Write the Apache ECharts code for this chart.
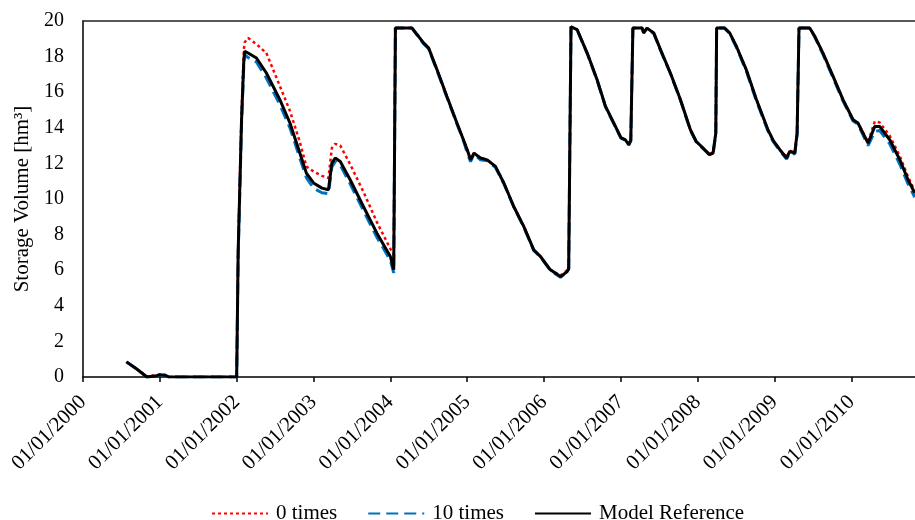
<!DOCTYPE html>
<html>
<head>
<meta charset="utf-8">
<script src="https://cdn.jsdelivr.net/npm/echarts@6/dist/echarts.min.js"></script>
<style>
    html, body { margin: 0; padding: 0; background: #fff; }
    #chart { width: 915px; height: 520px; }
</style>
</head>
<body>
<div id="chart"></div>
<script>
const dates = [
    '2000-07-26', '2000-09-13', '2000-10-31', '2000-12-08', '2001-01-01', '2001-01-25', '2001-02-13',
    '2002-01-01', '2002-01-08', '2002-01-24', '2002-02-04', '2002-02-08', '2002-02-24', '2002-04-05',
    '2002-05-22', '2002-07-25', '2002-09-11', '2002-10-28', '2002-11-28', '2003-01-01', '2003-02-10',
    '2003-03-13', '2003-03-29', '2003-04-14', '2003-05-08', '2003-06-24', '2003-08-26', '2003-10-29',
    '2004-01-01', '2004-01-17', '2004-01-25', '2004-04-13', '2004-05-14', '2004-06-07', '2004-07-01',
    '2004-08-10', '2004-09-26', '2004-11-13', '2004-12-14', '2005-01-01', '2005-01-17', '2005-02-02',
    '2005-03-05', '2005-04-06', '2005-05-15', '2005-06-24', '2005-08-10', '2005-09-27', '2005-11-13',
    '2005-12-15', '2006-01-31', '2006-03-20', '2006-04-21', '2006-04-28', '2006-05-09', '2006-06-07',
    '2006-07-25', '2006-09-10', '2006-10-20', '2006-11-28', '2007-01-01', '2007-01-22', '2007-02-07',
    '2007-02-17', '2007-02-27', '2007-04-12', '2007-04-19', '2007-05-05', '2007-06-06', '2007-07-08',
    '2007-08-24', '2007-10-11', '2007-11-27', '2007-12-25', '2008-02-03', '2008-02-27', '2008-03-14',
    '2008-03-27', '2008-03-31', '2008-05-08', '2008-06-01', '2008-07-03', '2008-08-19', '2008-10-06',
    '2008-11-30', '2008-12-25', '2009-01-26', '2009-02-27', '2009-03-14', '2009-04-07', '2009-04-18',
    '2009-04-27', '2009-06-17', '2009-07-11', '2009-08-19', '2009-10-06', '2009-11-22', '2010-01-09',
    '2010-02-01', '2010-03-21', '2010-04-22', '2010-05-15', '2010-07-02', '2010-08-19', '2010-09-27',
    '2010-10-29'
];

// Model Reference
const reference = [
    0.85, 0.45, 0.00, 0.05, 0.12, 0.10, 0.00,
    0.00, 7.00, 14.40, 17.80, 18.30, 18.20, 17.92,
    17.08, 15.58, 14.27, 12.58, 11.46, 10.90, 10.61,
    10.52, 12.02, 12.30, 12.11, 11.08, 9.58, 8.08,
    6.77, 6.02, 19.60, 19.60, 19.14, 18.77, 18.49,
    17.27, 15.77, 14.27, 13.33, 12.77, 12.20, 12.58,
    12.30, 12.20, 11.83, 10.90, 9.58, 8.45, 7.14,
    6.77, 6.02, 5.64, 5.92, 6.10, 19.67, 19.52,
    18.20, 16.70, 15.20, 14.27, 13.45, 13.33, 13.05,
    13.30, 19.60, 19.60, 19.33, 19.60, 19.33, 18.39,
    17.08, 15.58, 13.89, 13.23, 12.77, 12.49, 12.58,
    13.70, 19.60, 19.60, 19.33, 18.58, 17.27, 15.60,
    13.90, 13.30, 12.77, 12.30, 12.67, 12.58, 13.70,
    19.60, 19.60, 19.14, 18.20, 16.89, 15.58, 14.45,
    14.27, 13.14, 14.08, 14.08, 13.33, 12.20, 11.08,
    10.33
];

// 0 times
const times0 = [
    0.85, 0.45, 0.02, 0.10, 0.15, 0.12, 0.00,
    0.00, 7.30, 14.90, 18.40, 18.80, 19.05, 18.70,
    18.20, 16.35, 14.95, 13.20, 11.83, 11.55, 11.30,
    11.18, 12.86, 13.10, 13.00, 11.95, 10.40, 8.70,
    7.20, 6.90, 19.60, 19.60, 19.14, 18.77, 18.49,
    17.27, 15.77, 14.27, 13.33, 12.77, 12.20, 12.58,
    12.30, 12.20, 11.83, 10.90, 9.58, 8.45, 7.14,
    6.77, 6.02, 5.70, 6.00, 6.15, 19.67, 19.52,
    18.20, 16.70, 15.20, 14.27, 13.45, 13.33, 13.10,
    13.35, 19.60, 19.60, 19.33, 19.60, 19.33, 18.39,
    17.08, 15.58, 13.89, 13.23, 12.77, 12.52, 12.65,
    13.75, 19.60, 19.60, 19.33, 18.58, 17.27, 15.60,
    13.90, 13.30, 12.77, 12.35, 12.72, 12.62, 13.75,
    19.60, 19.60, 19.14, 18.20, 16.89, 15.58, 14.45,
    14.27, 13.20, 14.36, 14.30, 13.55, 12.40, 11.25,
    10.45
];

// 10 times
const times10 = [
    0.85, 0.45, 0.00, 0.05, 0.10, 0.08, 0.00,
    0.00, 6.80, 14.20, 17.60, 18.10, 17.95, 17.70,
    16.80, 15.30, 14.00, 12.30, 11.20, 10.60, 10.35,
    10.30, 11.80, 12.10, 11.90, 10.85, 9.35, 7.85,
    6.55, 5.85, 19.60, 19.60, 19.10, 18.72, 18.44,
    17.22, 15.72, 14.22, 13.28, 12.60, 12.10, 12.52,
    12.20, 12.15, 11.78, 10.86, 9.55, 8.42, 7.11,
    6.74, 5.98, 5.60, 5.90, 6.05, 19.67, 19.50,
    18.17, 16.67, 15.17, 14.24, 13.42, 13.30, 13.02,
    13.25, 19.60, 19.60, 19.33, 19.60, 19.30, 18.36,
    17.05, 15.55, 13.86, 13.20, 12.74, 12.46, 12.55,
    13.65, 19.60, 19.60, 19.30, 18.52, 17.20, 15.52,
    13.84, 13.24, 12.71, 12.25, 12.60, 12.52, 13.60,
    19.60, 19.60, 19.10, 18.12, 16.80, 15.50, 14.38,
    14.20, 13.00, 13.80, 13.85, 13.10, 11.95, 10.85,
    10.10
];

const seriesNames = ['0 times', '10 times', 'Model Reference'];
const xStart = '2000-01-01';
const xEnd = '2010-10-30';

const serif = 'Liberation Serif';

// date string -> decimal year, so the ticks land on 1 January of each year
function toYear(s) {
    const [y, m, d] = s.split('-').map(Number);
    const start = Date.UTC(y, 0, 1);
    const end = Date.UTC(y + 1, 0, 1);
    return y + (Date.UTC(y, m - 1, d) - start) / (end - start);
}

const pairs = (values) => dates.map((d, i) => [toYear(d), values[i]]);

const chart = echarts.init(document.getElementById('chart'), null, { renderer: 'canvas' });

const option = {
    animation: false,
    backgroundColor: '#fff',
    grid: { left: 83, right: 0, top: 21, bottom: 143 },
    legend: {
        data: seriesNames,
        left: 206,
        top: 498,
        itemWidth: 56,
        itemHeight: 22,
        itemGap: 30,
        itemStyle: { opacity: 0 }, // line only, no marker in the key
        textStyle: { fontFamily: serif, fontSize: 21, color: '#000', padding: [0, 0, 0, 3] }
    },
    xAxis: [
        {
            type: 'value',
            min: toYear(xStart),
            max: toYear(xEnd),
            interval: 1,
            axisLine: { show: true, onZero: false, lineStyle: { color: '#000', width: 1.5 } },
            axisTick: { show: true, length: 5, lineStyle: { color: '#000', width: 1.5 } },
            splitLine: { show: false },
            axisLabel: {
                rotate: 45,
                margin: 22,
                showMaxLabel: false,
                fontFamily: serif,
                fontSize: 21,
                color: '#000',
                formatter: (v) => Number.isInteger(v) ? '01/01/' + v : ''
            }
        },
        {
            // top edge of the plot area
            type: 'value',
            position: 'top',
            min: toYear(xStart),
            max: toYear(xEnd),
            axisLine: { show: true, onZero: false, lineStyle: { color: '#222', width: 1.5 } },
            axisTick: { show: false },
            axisLabel: { show: false },
            splitLine: { show: false }
        }
    ],
    yAxis: {
        type: 'value',
        min: 0,
        max: 20,
        interval: 2,
        name: 'Storage Volume [hm³]',
        nameLocation: 'middle',
        nameGap: 50,
        nameTextStyle: { fontFamily: serif, fontSize: 21, color: '#000' },
        axisLine: { show: true, lineStyle: { color: '#000', width: 1.5 } },
        axisTick: { show: false },
        splitLine: { show: false },
        axisLabel: { margin: 19, fontFamily: serif, fontSize: 20, color: '#000' }
    },
    series: [
        {
            name: seriesNames[0],
            type: 'line',
            symbol: 'none',
            data: pairs(times0),
            lineStyle: { color: '#ff0000', width: 2.5, type: [3, 3] },
            itemStyle: { color: '#ff0000' }
        },
        {
            name: seriesNames[1],
            type: 'line',
            symbol: 'none',
            data: pairs(times10),
            lineStyle: { color: '#0070c0', width: 3, type: [12, 6] },
            itemStyle: { color: '#0070c0' }
        },
        {
            name: seriesNames[2],
            type: 'line',
            symbol: 'none',
            data: pairs(reference),
            lineStyle: { color: '#000', width: 3 },
            itemStyle: { color: '#000' }
        }
    ]
};

chart.setOption(option);
</script>
</body>
</html>
